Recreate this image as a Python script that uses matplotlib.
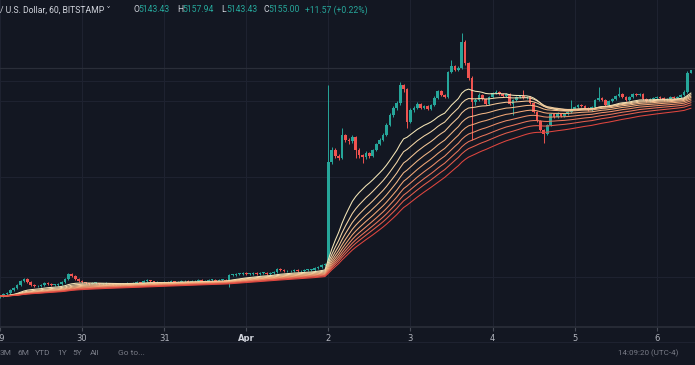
import numpy as np
import pandas as pd
import matplotlib
matplotlib.use("Agg")
import matplotlib.pyplot as plt
from matplotlib.colors import LinearSegmentedColormap

# BTC/USD, 60 min candles on Bitstamp, Mar 29 00:00 -> Apr 6 10:00
first_open = 4066
closes = [
    # Mar 29
    4071, 4081, 4086, 4100, 4110, 4124, 4143, 4153, 4138, 4124, 4119, 4119,
    4124, 4134, 4129, 4124, 4124, 4129, 4138, 4153, 4177, 4167, 4153, 4143,
    # Mar 30
    4138, 4134, 4129, 4134, 4134, 4129, 4129, 4134, 4129, 4124, 4124, 4129,
    4129, 4134, 4129, 4134, 4138, 4134, 4143, 4148, 4143, 4138, 4138, 4134,
    # Mar 31
    4138, 4138, 4143, 4138, 4138, 4143, 4143, 4138, 4143, 4143, 4148, 4143,
    4143, 4148, 4148, 4143, 4148, 4148, 4143, 4172, 4172, 4177, 4177, 4182,
    # Apr 1
    4177, 4177, 4182, 4177, 4182, 4182, 4177, 4182, 4186, 4201, 4196, 4191,
    4191, 4191, 4196, 4191, 4191, 4196, 4196, 4196, 4206, 4210, 4220, 4225,
    # Apr 2
    4714, 4772, 4743, 4734, 4844, 4820, 4815, 4834, 4772, 4748, 4738, 4758,
    4743, 4772, 4801, 4820, 4844, 4892, 4940, 4974, 4998, 5084, 5065, 4906,
    # Apr 3
    4964, 4974, 4993, 4974, 4983, 4969, 4988, 5022, 5055, 5036, 5026, 5146,
    5175, 5156, 5166, 5290, 5190, 5118, 5002, 5012, 5036, 5017, 4993, 5026,
    # Apr 4
    5046, 5050, 5041, 5031, 5041, 4993, 5012, 5026, 5031, 5022, 5026, 4998,
    4954, 4911, 4868, 4849, 4892, 4945, 4930, 4950, 4935, 4945, 4954, 4969,
    # Apr 5
    4978, 4988, 4983, 4974, 4964, 4978, 5012, 5022, 5012, 4988, 5007, 5017,
    5031, 5041, 5026, 5012, 5026, 5041, 5036, 5041, 5017, 5007, 5017, 5022,
    # Apr 6
    5026, 5022, 5012, 5017, 5026, 5022, 5026, 5036, 5050, 5143, 5155,
]
highs = [
    4076, 4086, 4092, 4105, 4114, 4130, 4150, 4160, 4156, 4141, 4128, 4124,
    4128, 4138, 4137, 4132, 4129, 4133, 4142, 4157, 4184, 4180, 4170, 4156,
    4146, 4140, 4136, 4138, 4137, 4136, 4133, 4137, 4136, 4130, 4128, 4132,
    4133, 4138, 4136, 4137, 4142, 4140, 4146, 4153, 4150, 4145, 4142, 4139,
    4141, 4142, 4146, 4145, 4141, 4146, 4147, 4146, 4146, 4147, 4151, 4151,
    4146, 4151, 4152, 4151, 4151, 4152, 4151, 4178, 4177, 4181, 4181, 4186,
    4186, 4181, 4186, 4186, 4185, 4186, 4186, 4186, 4190, 4208, 4204, 4199,
    4195, 4195, 4200, 4199, 4195, 4200, 4200, 4201, 4210, 4215, 4225, 4232,
    5084, 4786, 4780, 4755, 4878, 4850, 4830, 4845, 4840, 4780, 4752, 4765,
    4762, 4778, 4808, 4828, 4852, 4900, 4948, 4985, 5005, 5098, 5090, 5070,
    4972, 4984, 5002, 4998, 4990, 4988, 4995, 5030, 5062, 5060, 5040, 5152,
    5204, 5180, 5175, 5334, 5300, 5195, 5125, 5022, 5046, 5040, 5022, 5030,
    5050, 5058, 5055, 5045, 5046, 5045, 5017, 5030, 5036, 5060, 5032, 5030,
    5002, 4960, 4915, 4872, 4897, 4950, 4950, 4955, 4952, 4950, 4960, 5012,
    4984, 4995, 4993, 4988, 4978, 4983, 5017, 5074, 5026, 5015, 5012, 5022,
    5036, 5074, 5046, 5030, 5030, 5046, 5044, 5046, 5045, 5022, 5020, 5026,
    5031, 5030, 5026, 5021, 5030, 5030, 5030, 5040, 5058, 5150, 5158,
]
lows = [
    4062, 4068, 4077, 4083, 4096, 4106, 4120, 4138, 4134, 4120, 4114, 4114,
    4116, 4121, 4125, 4120, 4119, 4121, 4126, 4135, 4150, 4162, 4150, 4139,
    4134, 4130, 4125, 4127, 4130, 4126, 4125, 4126, 4125, 4120, 4120, 4121,
    4125, 4126, 4125, 4126, 4130, 4130, 4131, 4140, 4139, 4134, 4134, 4130,
    4130, 4134, 4135, 4135, 4134, 4135, 4139, 4134, 4135, 4139, 4140, 4140,
    4139, 4140, 4144, 4139, 4140, 4144, 4139, 4114, 4167, 4168, 4173, 4174,
    4172, 4172, 4174, 4173, 4174, 4178, 4172, 4174, 4178, 4182, 4192, 4187,
    4186, 4187, 4187, 4187, 4186, 4187, 4191, 4192, 4192, 4202, 4206, 4215,
    4215, 4705, 4735, 4725, 4730, 4810, 4800, 4808, 4734, 4735, 4710, 4730,
    4735, 4738, 4765, 4795, 4815, 4838, 4885, 4932, 4965, 4990, 5050, 4880,
    4900, 4955, 4968, 4968, 4968, 4962, 4962, 4982, 5015, 5030, 5020, 5020,
    5140, 5150, 5150, 5160, 5180, 5110, 4820, 4990, 5005, 5010, 4988, 4988,
    5020, 5040, 5036, 5026, 5028, 4988, 4940, 5008, 5020, 5017, 5018, 4993,
    4950, 4906, 4862, 4806, 4845, 4888, 4925, 4925, 4930, 4930, 4940, 4950,
    4965, 4974, 4978, 4970, 4958, 4960, 4973, 5008, 5008, 4984, 4984, 5002,
    5012, 5026, 5020, 5008, 5008, 5022, 5031, 5032, 5012, 5002, 5003, 5012,
    5018, 5017, 5008, 5008, 5013, 5018, 5018, 5022, 5033, 5046, 5143,
]
day_labels = ["29", "30", "31", "Apr", "2", "3", "4", "5", "6"]
ema_periods = [20, 26, 32, 38, 44, 50, 56, 62, 70]
grid_prices = [5103, 5007, 4642, 4162]
last_price_line = 5166

BG = "#131722"
UP = "#26a69a"
DOWN = "#ef5350"
TXT = "#b2b5be"

closes = np.array(closes, dtype=float)
highs = np.array(highs, dtype=float)
lows = np.array(lows, dtype=float)
opens = np.r_[first_open, closes[:-1]]
hours = np.arange(len(closes))

fig = plt.figure(figsize=(6.95, 3.65), dpi=100, facecolor=BG)
ax = fig.add_axes([0, 38 / 365, 1, 327 / 365])
ax.set_facecolor(BG)

# grid
for d in range(len(day_labels)):
    ax.axvline(d * 24, color="#1e2230", lw=0.8, zorder=0)
for p in grid_prices:
    ax.axhline(p, color="#1e2230", lw=0.8, zorder=0)
ax.axhline(last_price_line, color="#2a2e39", lw=0.9, zorder=0)

# candles
up = closes >= opens
cols = np.where(up, UP, DOWN)
ax.vlines(hours, lows, highs, colors=cols, lw=0.7, zorder=2)
body_lo = np.minimum(opens, closes)
body_h = np.maximum(np.abs(closes - opens), 2.5)
ax.bar(hours, body_h, bottom=body_lo, width=0.78, color=cols, linewidth=0, zorder=3)

# EMA ribbon
cmap = LinearSegmentedColormap.from_list("rib", ["#f6e7b8", "#f4a877", "#e0463f"])
s = pd.Series(closes)
for i, p in enumerate(ema_periods):
    ema = s.ewm(span=p, adjust=False).mean()
    ax.plot(hours, ema, color=cmap(i / (len(ema_periods) - 1)), lw=0.75, zorder=4)

ax.set_xlim(0.58, 203.2)
ax.set_ylim(3922.4, 5492)
ax.set_yticks([])
ax.set_xticks([d * 24 for d in range(len(day_labels))])
ax.set_xticklabels(day_labels)
ax.tick_params(axis="x", colors="#4a4e59", length=3, width=0.8, pad=2,
               labelsize=6, labelcolor=TXT)
for lab in ax.get_xticklabels():
    if lab.get_text() == "Apr":
        lab.set_fontweight("bold")
        lab.set_color("#d1d4dc")
for sp in ["top", "left", "right"]:
    ax.spines[sp].set_visible(False)
ax.spines["bottom"].set_color("#2a2e39")
ax.spines["bottom"].set_linewidth(1.2)

# separator above the toolbar
fig.add_artist(plt.Line2D([0, 1], [23 / 365, 23 / 365], color="#1e2230", lw=0.8))

fam = ["Roboto", "DejaVu Sans"]
hy = 1 - 10 / 365
fig.text(0 / 695, hy, "/ U.S. Dollar, 60, BITSTAMP \u02c5", color="#d1d4dc",
         fontsize=6.2, va="center", family=fam)
ohlc = [("O", 133, "5143.43"), ("H", 177, "5157.94"), ("L", 221, "5143.43"),
        ("C", 263, "5155.00")]
for k, x, v in ohlc:
    fig.text(x / 695, hy, k, color="#d1d4dc", fontsize=6.2, va="center", family=fam)
    fig.text((x + 5) / 695, hy, v, color=UP, fontsize=6.2, va="center", family=fam)
fig.text(305 / 695, hy, "+11.57 (+0.22%)", color=UP, fontsize=6.2, va="center", family=fam)

ty = 12 / 365
for lab, x in [("3M", 0), ("6M", 17), ("YTD", 35), ("1Y", 57), ("5Y", 72), ("All", 90),
               ("Go to...", 118)]:
    fig.text(x / 695, ty, lab, color="#787b86", fontsize=6, va="center", family=fam)
fig.text(618 / 695, ty, "14:09:20 (UTC-4)", color="#787b86", fontsize=5.8,
         va="center", family=fam)

fig.savefig("out.png", dpi=100, facecolor=BG)
